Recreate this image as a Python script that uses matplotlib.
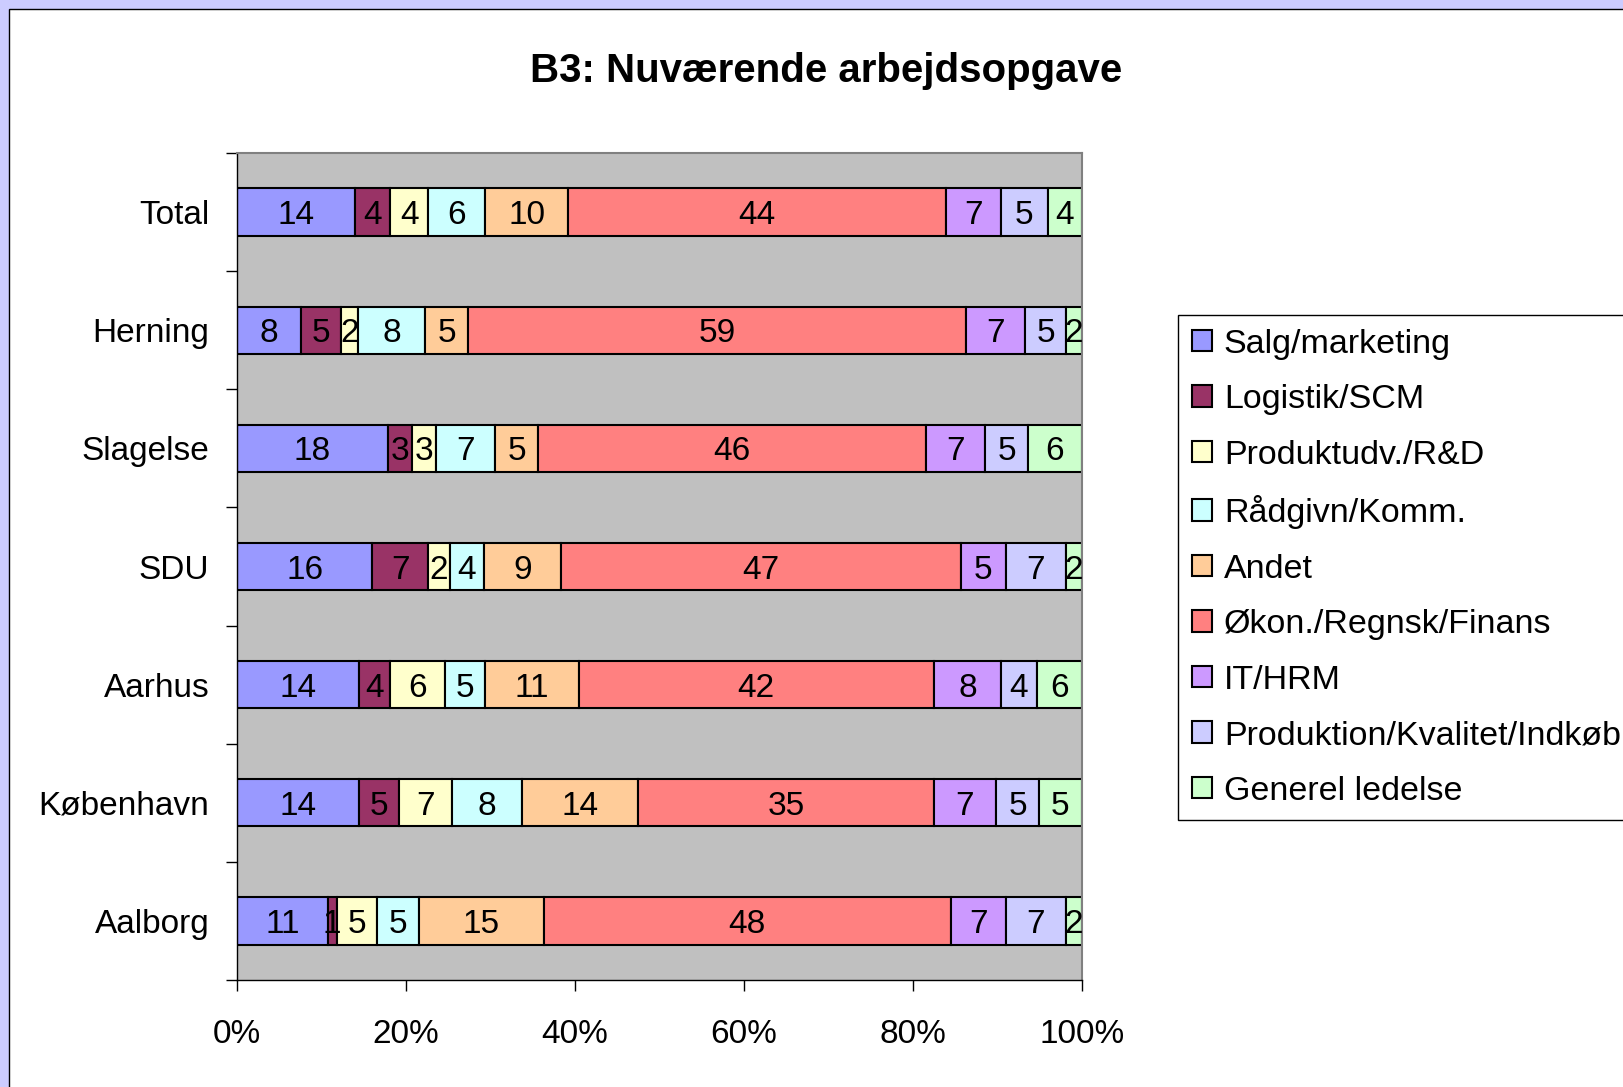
import matplotlib
matplotlib.use('Agg')
import matplotlib.pyplot as plt
from matplotlib.patches import Patch, Rectangle
import numpy as np

plt.rcParams['font.family'] = ['Liberation Sans', 'DejaVu Sans']

cities = ['Total', 'Herning', 'Slagelse', 'SDU', 'Aarhus', 'København', 'Aalborg']
tasks = ['Salg/marketing', 'Logistik/SCM', 'Produktudv./R&D', 'Rådgivn/Komm.', 'Andet',
         'Økon./Regnsk/Finans', 'IT/HRM', 'Produktion/Kvalitet/Indkøb', 'Generel ledelse']
colors = ['#9999FF', '#993366', '#FFFFCC', '#CCFFFF', '#FFCC99',
          '#FF8080', '#CC99FF', '#CCCCFF', '#CCFFCC']

# segment widths (percent of each row)
shares = [
    [13.95, 4.20, 4.46, 6.72, 9.88, 44.64, 6.59, 5.49, 4.07],
    [7.62, 4.72, 1.94, 8.01, 5.10, 58.91, 6.98, 4.84, 1.87],
    [17.83, 2.91, 2.78, 7.04, 5.10, 45.93, 6.98, 5.04, 6.40],
    [16.02, 6.59, 2.58, 4.07, 9.04, 47.35, 5.30, 7.11, 1.94],
    [14.41, 3.75, 6.40, 4.78, 11.11, 41.99, 8.01, 4.20, 5.36],
    [14.41, 4.72, 6.33, 8.33, 13.70, 34.95, 7.43, 5.04, 5.10],
    [10.72, 1.10, 4.72, 5.04, 14.73, 48.19, 6.46, 7.11, 1.94],
]
# numbers printed inside the segments
printed = [
    [14, 4, 4, 6, 10, 44, 7, 5, 4],
    [8, 5, 2, 8, 5, 59, 7, 5, 2],
    [18, 3, 3, 7, 5, 46, 7, 5, 6],
    [16, 7, 2, 4, 9, 47, 5, 7, 2],
    [14, 4, 6, 5, 11, 42, 8, 4, 6],
    [14, 5, 7, 8, 14, 35, 7, 5, 5],
    [11, 1, 5, 5, 15, 48, 7, 7, 2],
]
xticks = [0, 20, 40, 60, 80, 100]

W, H = 1623, 1087
fig = plt.figure(figsize=(W / 100, H / 100), dpi=100, facecolor='#CCCCFF')
fig.add_artist(Rectangle((8.5 / W, -0.01), 1.05, 1.01 - 8.5 / H, transform=fig.transFigure,
                         facecolor='white', edgecolor='black', lw=1, zorder=-5))

ax = fig.add_axes([237 / W, 1 - 980 / H, (1082 - 237) / W, (980 - 153) / H])
ax.set_facecolor('#C0C0C0')

data = np.array(shares)
data = data / data.sum(axis=1, keepdims=True) * 100
ypos = np.arange(len(cities))
left = np.zeros(len(cities))
for j, task in enumerate(tasks):
    ax.barh(ypos, data[:, j], left=left, height=0.4, color=colors[j],
            edgecolor='black', linewidth=1.5, label=task)
    for i in range(len(cities)):
        ax.text(left[i] + data[i, j] / 2, ypos[i], str(printed[i][j]),
                ha='center', va='center_baseline', fontsize=24, clip_on=True)
    left += data[:, j]

ax.set_xlim(0, 100)
ax.set_ylim(len(cities) - 0.5, -0.5)
ax.set_xticks(xticks)
ax.set_xticklabels([f'{t}%' for t in xticks], fontsize=24)
ax.set_yticks(ypos)
ax.set_yticklabels(cities, fontsize=24)
ax.set_yticks(np.arange(-0.5, len(cities)), minor=True)
ax.tick_params(axis='y', which='major', length=0, pad=20)
ax.tick_params(axis='y', which='minor', length=8, width=1, color='black')
ax.tick_params(axis='x', length=8, width=1, pad=20, color='black')

for side in ['top', 'right']:
    ax.spines[side].set_color('#808080')
    ax.spines[side].set_linewidth(1.5)
for side in ['left', 'bottom']:
    ax.spines[side].set_color('black')
    ax.spines[side].set_linewidth(1)

fig.text(0.509, 0.935, 'B3: Nuværende arbejdsopgave', ha='center', va='center',
         fontsize=29, fontweight='bold')

handles = [Patch(facecolor=c, edgecolor='black', linewidth=1.5) for c in colors]
leg = fig.legend(handles, tasks, loc='upper left', bbox_to_anchor=(1178 / W, 1 - 315 / H),
                 fontsize=24.5, frameon=True, fancybox=False, edgecolor='black', framealpha=1,
                 handlelength=0.6, handleheight=0.6, handletextpad=0.35,
                 labelspacing=0.72, borderpad=0.4, borderaxespad=0)
leg.get_frame().set_linewidth(1)

fig.savefig('out.png', dpi=100, facecolor=fig.get_facecolor())
